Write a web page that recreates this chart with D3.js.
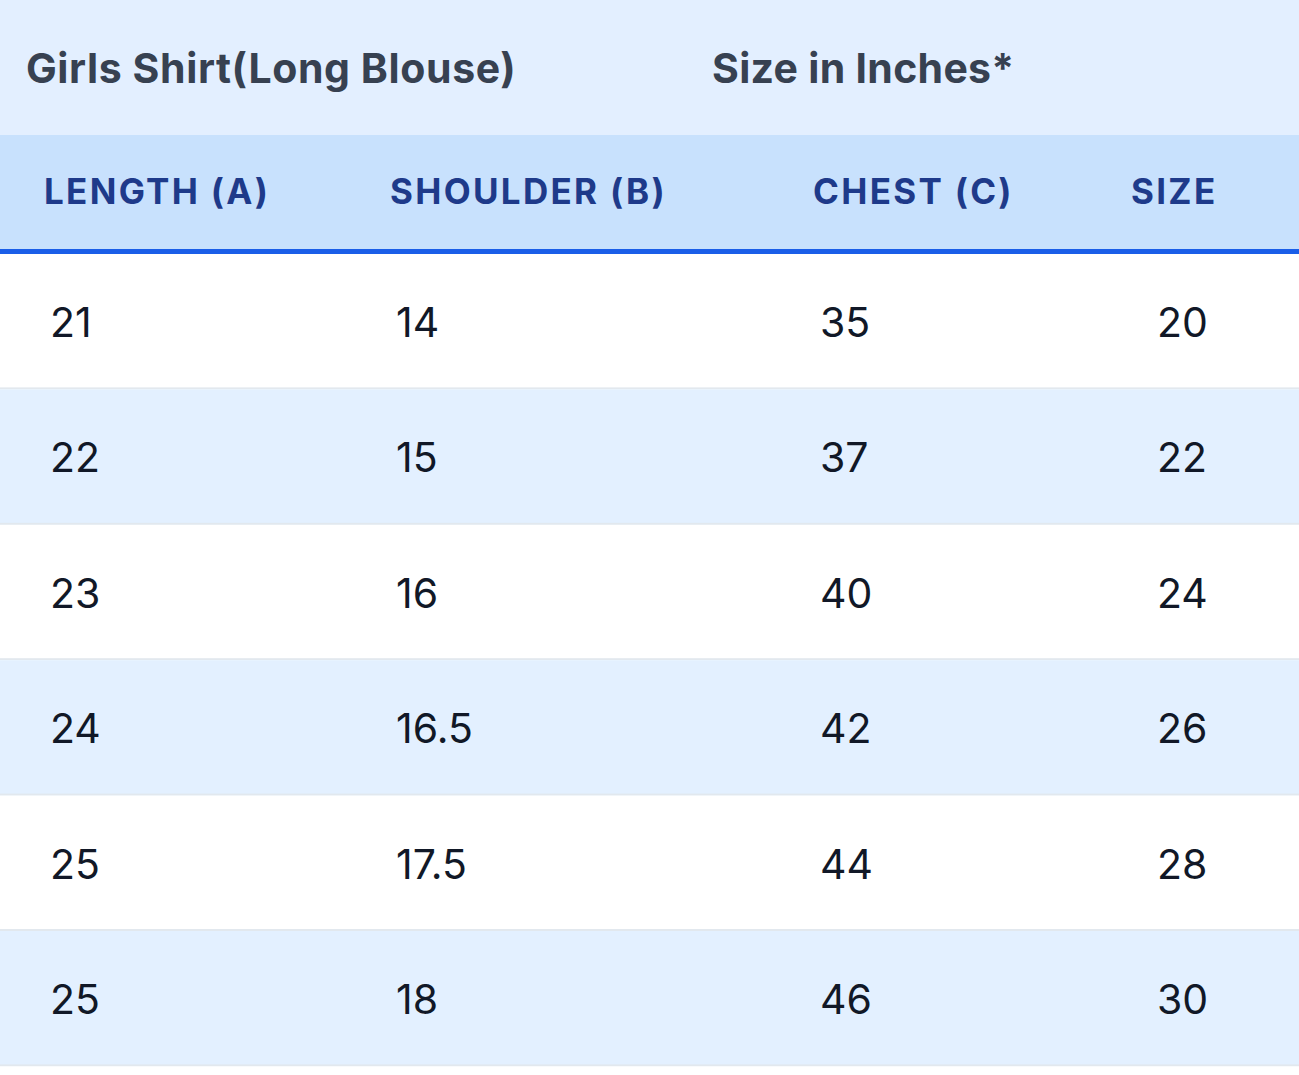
<!DOCTYPE html>
<html><head><meta charset="utf-8">
<script src="https://cdn.jsdelivr.net/npm/d3@7"></script>
<style>body{margin:0;background:#fff}svg{display:block}</style>
</head><body>
<script>
const title = "Girls Shirt(Long Blouse)";
const subtitle = "Size in Inches*";
const columns = ["LENGTH (A)", "SHOULDER (B)", "CHEST (C)", "SIZE"];
const lengthA = ["21","22","23","24","25","25"];
const shoulderB = ["14","15","16","16.5","17.5","18"];
const chestC = ["35","37","40","42","44","46"];
const sizes = ["20","22","24","26","28","30"];

const W = 1299, H = 1075;
const svg = d3.select("body").append("svg").attr("width", W).attr("height", H);
const font = "Inter, 'Noto Sans', sans-serif";

const rows = d3.range(lengthA.length).map(i => [lengthA[i], shoulderB[i], chestC[i], sizes[i]]);
const headX = d3.scaleOrdinal().domain(columns).range([44, 390, 813, 1131]);
const dataX = d3.scaleOrdinal().domain([0,1,2,3]).range([50, 396, 820, 1157]);
const y = d3.scaleBand().domain(d3.range(rows.length + 1)).range([254, 254 + 135.4 * 7]).paddingInner(0);

svg.append("rect").attr("x",0).attr("y",0).attr("width",W).attr("height",135).attr("fill","#e3efff");
svg.append("text").attr("x",26).attr("y",83).text(title)
  .attr("font-family",font).attr("font-weight",700).attr("font-size",41).attr("letter-spacing",0.6).attr("fill","#374151");
svg.append("text").attr("x",712).attr("y",83).text(subtitle)
  .attr("font-family",font).attr("font-weight",700).attr("font-size",41).attr("letter-spacing",0.3).attr("fill","#374151");

svg.append("rect").attr("x",0).attr("y",135).attr("width",W).attr("height",115).attr("fill","#c8e1fd");
svg.append("rect").attr("x",0).attr("y",249).attr("width",W).attr("height",5).attr("fill","#1a5ee8");
svg.selectAll("text.h").data(columns).join("text").attr("class","h")
  .attr("x",d=>headX(d)).attr("y",204).text(d=>d)
  .attr("font-family",font).attr("font-weight",700).attr("font-size",35)
  .attr("letter-spacing",2.3).attr("fill","#1e3a8a");

const g = svg.selectAll("g.r").data(d3.range(rows.length+1)).join("g").attr("class","r")
  .attr("transform",i=>`translate(0,${y(i)})`);
g.append("rect").attr("width",W).attr("height",y.bandwidth())
  .attr("fill",i=>i%2 ? "#e3f0ff" : "#ffffff");
g.append("rect").attr("y",y.bandwidth()-2).attr("width",W).attr("height",2).attr("fill","#e2e8ee");
g.filter(i=>i<rows.length).selectAll("text").data(i=>rows[i]).join("text")
  .attr("x",(d,j)=>dataX(j)).attr("y",83).text(d=>d)
  .attr("font-family",font).attr("font-size",41).attr("fill","#111827");
</script>
</body></html>
